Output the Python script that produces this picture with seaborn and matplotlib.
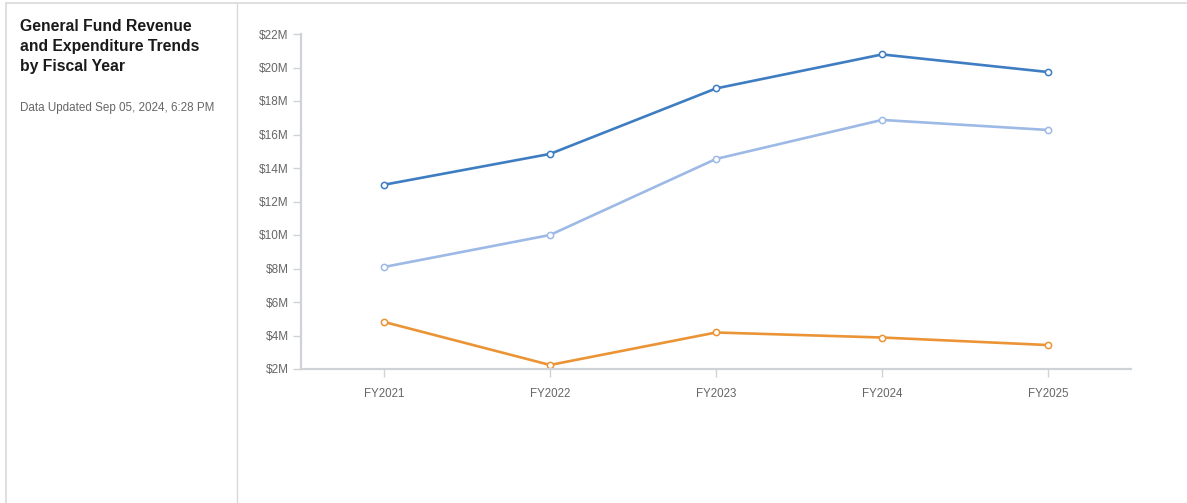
import matplotlib
matplotlib.use("Agg")
import matplotlib.pyplot as plt
from matplotlib.lines import Line2D
from matplotlib.ticker import FuncFormatter, MultipleLocator
import seaborn as sns
import pandas as pd

years = ["FY2021", "FY2022", "FY2023", "FY2024", "FY2025"]
revenue = [13.0, 14.84, 18.75, 20.78, 19.73]
expenditures = [8.09, 10.0, 14.54, 16.87, 16.27]
other = [4.81, 2.24, 4.18, 3.88, 3.43]
series_names = ["Revenue", "Expenditures", "Other"]
colors = ["#3f7dc2", "#9db9e5", "#eb9435"]

df = pd.concat([
    pd.DataFrame({"year": years, "value": vals, "series": name})
    for name, vals in zip(series_names, [revenue, expenditures, other])
], ignore_index=True)

sns.set_theme(style="white")
plt.rcParams["font.family"] = ["Liberation Sans", "DejaVu Sans"]

W, H = 1187, 503
fig = plt.figure(figsize=(W / 100, H / 100), dpi=100)
ax = fig.add_axes([301 / W, 1 - 369 / H, (1131 - 301) / W, (369 - 34) / H])

sns.lineplot(data=df, x="year", y="value", hue="series", hue_order=series_names,
             palette=colors, marker="o", markersize=4.5, markerfacecolor="white",
             markeredgewidth=1.1, linewidth=1.9, legend=False, ax=ax, sort=False)
for line, c in zip(ax.lines, colors):
    line.set_markeredgecolor(c)

ax.set_xlim(-0.5, 4.5)
ax.set_ylim(2, 22)
ax.yaxis.set_major_locator(MultipleLocator(2))
ax.yaxis.set_major_formatter(FuncFormatter(lambda v, p: f"${v:.0f}M"))
ax.set_xlabel("")
ax.set_ylabel("")
for s in ["top", "right"]:
    ax.spines[s].set_visible(False)
for s in ["left", "bottom"]:
    ax.spines[s].set_color("#cfd2d6")
    ax.spines[s].set_linewidth(1.6)
ax.tick_params(axis="both", which="major", length=6, width=1, color="#cfd2d6",
               labelcolor="#666666", labelsize=8.5, pad=3, left=True, bottom=True)
ax.tick_params(axis="x", pad=8, labelsize=8.3)
ax.grid(False)

# panel borders
bc = "#d9d9d9"
fig.add_artist(Line2D([6 / W, 1], [1 - 2.5 / H, 1 - 2.5 / H], color=bc, lw=1.2, transform=fig.transFigure))
fig.add_artist(Line2D([6 / W, 6 / W], [0, 1 - 2.5 / H], color=bc, lw=1.2, transform=fig.transFigure))
fig.add_artist(Line2D([236.5 / W, 236.5 / W], [0, 1 - 2.5 / H], color=bc, lw=1.0, transform=fig.transFigure))

fig.text(20 / W, 1 - 19 / H, "General Fund Revenue\nand Expenditure Trends\nby Fiscal Year",
         ha="left", va="top", fontsize=11.3, fontweight="bold", color="#1a1a1a", linespacing=1.42)
fig.text(20 / W, 1 - 108 / H, "Data Updated Sep 05, 2024, 6:28 PM",
         ha="left", va="center", fontsize=8.4, color="#666666")

fig.savefig("out.png", dpi=100, facecolor="white")
